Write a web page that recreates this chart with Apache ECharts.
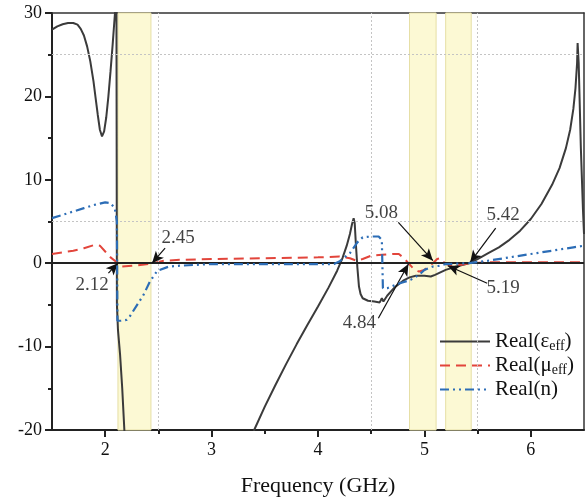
<!DOCTYPE html>
<html>
<head>
<meta charset="utf-8">
<script src="https://cdn.jsdelivr.net/npm/echarts@6/dist/echarts.min.js"></script>
<style>
  html, body { margin: 0; padding: 0; background: #fff; }
  #chart { width: 588px; height: 502px; }
</style>
</head>
<body>
<div id="chart"></div>
<script>
// 频率 (GHz) 与各曲线取值
const epsData = [
  [1.5, 28.0], [1.55, 28.4], [1.6, 28.65], [1.65, 28.8], [1.70, 28.8], [1.74, 28.6],
  [1.77, 28.1], [1.8, 27.3], [1.83, 26.0], [1.86, 24.2], [1.89, 21.8], [1.91, 19.8],
  [1.93, 17.8], [1.95, 16.0], [1.97, 15.2], [1.99, 15.8], [2.01, 17.5], [2.03, 20.0],
  [2.05, 23.0], [2.07, 26.2], [2.085, 28.8], [2.095, 30.5], [2.105, 36], [2.11, -5.0],
  [2.12, -8.0], [2.14, -11.0], [2.16, -15.0], [2.18, -20.0], [2.2, -25.0], [2.22, -32],
  [3.35, -32], [3.40, -20.0], [3.5, -17.2], [3.6, -14.6], [3.7, -12.1], [3.8, -9.7],
  [3.9, -7.4], [4.0, -5.2], [4.1, -2.9], [4.18, -0.9], [4.23, 0.6], [4.27, 2.1],
  [4.3, 3.5], [4.32, 4.7], [4.335, 5.4], [4.345, 4.8], [4.355, 2.5], [4.37, -0.5],
  [4.385, -2.8], [4.4, -3.7], [4.42, -4.2], [4.47, -4.5], [4.53, -4.6], [4.58, -4.7],
  [4.6, -4.2], [4.615, -4.6], [4.65, -3.9], [4.72, -2.9], [4.8, -2.1], [4.86, -1.7],
  [4.92, -1.5], [5.0, -1.5], [5.06, -1.6], [5.1, -1.4], [5.2, -0.8], [5.3, -0.4],
  [5.42, 0.0], [5.5, 0.5], [5.6, 1.2], [5.7, 1.9], [5.8, 2.8], [5.9, 3.9], [6.0, 5.3],
  [6.1, 7.1], [6.2, 9.4], [6.27, 11.4], [6.33, 13.8], [6.37, 16.0], [6.4, 18.5],
  [6.42, 21.0], [6.435, 24.0], [6.44, 26.4], [6.45, 24.0], [6.46, 19.0], [6.47, 14.0],
  [6.49, 6.5], [6.5, 3.5]
];
const muData = [
  [1.5, 1.1], [1.6, 1.3], [1.7, 1.5], [1.8, 1.8], [1.9, 2.2], [1.95, 2.1], [2.0, 1.4],
  [2.05, 0.7], [2.12, 0.0], [2.15, -0.4], [2.25, -0.3], [2.35, -0.2], [2.45, 0.0],
  [2.55, 0.3], [2.7, 0.4], [3.0, 0.5], [3.5, 0.6], [4.0, 0.7], [4.2, 0.8], [4.3, 0.6],
  [4.36, 0.3], [4.42, 0.5], [4.5, 0.9], [4.6, 1.0], [4.7, 1.1], [4.76, 1.1], [4.8, 0.7],
  [4.85, 0.0], [4.9, -0.7], [4.95, -1.0], [5.0, -0.8], [5.05, -0.3], [5.08, 0.0],
  [5.12, 0.5], [5.15, 0.6], [5.19, 0.0], [5.25, -0.3], [5.35, -0.2], [5.42, 0.0],
  [5.6, 0.1], [6.0, 0.1], [6.5, 0.1]
];
const nData = [
  [1.5, 5.4], [1.6, 5.8], [1.7, 6.2], [1.8, 6.6], [1.9, 7.0], [2.0, 7.3], [2.05, 7.2],
  [2.09, 6.6], [2.11, 5.0], [2.115, -6.9], [2.15, -6.9], [2.2, -6.8], [2.23, -6.4],
  [2.3, -5.0], [2.36, -3.8], [2.42, -2.2], [2.49, -0.9], [2.6, -0.4], [2.7, -0.3],
  [3.0, -0.1], [3.5, -0.1], [4.0, -0.1], [4.15, -0.1], [4.2, 0.2], [4.3, 1.2], [4.37, 2.5],
  [4.42, 3.1], [4.5, 3.2], [4.57, 3.2], [4.6, 2.8], [4.61, -3.0], [4.65, -3.0],
  [4.77, -2.4], [4.87, -2.0], [4.95, -1.4], [5.0, -0.8], [5.08, -0.4], [5.15, -0.3],
  [5.2, -0.1], [5.3, -0.05], [5.42, 0.0], [5.6, 0.3], [5.8, 0.7], [6.0, 1.1], [6.2, 1.5],
  [6.4, 1.9], [6.5, 2.1]
];
// 黄色频带
const bands = [[2.12, 2.43], [4.86, 5.11], [5.20, 5.44]];
// 标注：文字位置、箭头起点、箭头终点
const notes = [
  { text: '2.12', at: [1.876, -2.6], from: [2.03, -1.2], to: [2.12, 0.0] },
  { text: '2.45', at: [2.685, 3.0], from: [2.563, 1.8], to: [2.44, 0.0] },
  { text: '5.08', at: [4.595, 6.0], from: [4.755, 4.9], to: [5.08, 0.3] },
  { text: '5.19', at: [5.74, -3.0], from: [5.59, -2.4], to: [5.22, -0.3] },
  { text: '5.42', at: [5.74, 5.8], from: [5.67, 4.2], to: [5.43, 0.1] },
  { text: '4.84', at: [4.39, -7.2], from: [4.567, -6.6], to: [4.85, -0.1] }
];
// 刻度
const xMajor = [2, 3, 4, 5, 6];
const xMinor = [2.5, 3.5, 4.5, 5.5];
const gridX = [2.5, 4.5, 5.5];
const gridY = [25, 5];

const serif = 'Liberation Serif';
const legendNames = {
  eps: 'Real(ε{sub|eff})',
  mu: 'Real(μ{sub|eff})',
  n: 'Real(n)'
};

const chart = echarts.init(document.getElementById('chart'));

const option = {
  animation: false,
  grid: { left: 52, right: 4, top: 13, bottom: 72, containLabel: false, outerBoundsMode: 'none' },
  legend: {
    data: ['eps', 'mu', 'n'],
    orient: 'vertical',
    left: 434,
    top: 325,
    itemWidth: 50,
    itemHeight: 14,
    itemGap: 1,
    itemStyle: { opacity: 0 },
    formatter: (name) => legendNames[name],
    textStyle: {
      fontFamily: serif,
      fontSize: 21,
      color: '#111',
      lineHeight: 23,
      rich: {
        sub: { fontFamily: serif, fontSize: 14, verticalAlign: 'bottom', padding: [8, 0, 0, 0], color: '#111' }
      }
    }
  },
  xAxis: [{
    type: 'value',
    min: 1.5,
    max: 6.5,
    position: 'bottom',
    axisLine: { onZero: false, lineStyle: { color: '#222', width: 2 } },
    axisTick: { show: true, customValues: xMajor, length: 7, lineStyle: { color: '#222', width: 2 } },
    axisLabel: { customValues: xMajor, color: '#111', fontFamily: serif, fontSize: 18, margin: 11 },
    splitLine: { show: false },
    name: 'Frequency (GHz)',
    nameLocation: 'middle',
    nameGap: 45,
    nameTextStyle: { fontFamily: serif, fontSize: 22, color: '#111' }
  }, {
    type: 'value',
    min: 1.5,
    max: 6.5,
    position: 'bottom',
    axisLine: { show: false, onZero: false },
    axisTick: { show: true, customValues: xMinor, length: 4, lineStyle: { color: '#222', width: 2 } },
    axisLabel: { show: false },
    splitLine: { show: false }
  }, {
    type: 'value',
    min: 1.5,
    max: 6.5,
    position: 'top',
    axisLine: { onZero: false, lineStyle: { color: '#333', width: 1.5 } },
    axisTick: { show: false },
    axisLabel: { show: false },
    splitLine: { show: false }
  }],
  yAxis: [{
    type: 'value',
    min: -20,
    max: 30,
    interval: 10,
    position: 'left',
    axisLine: { show: true, onZero: false, lineStyle: { color: '#222', width: 2 } },
    axisTick: { show: true, length: 7, lineStyle: { color: '#222', width: 2 } },
    minorTick: { show: true, splitNumber: 2, length: 4, lineStyle: { color: '#222', width: 2 } },
    axisLabel: { color: '#111', fontFamily: serif, fontSize: 18, margin: 10 },
    splitLine: { show: false }
  }, {
    type: 'value',
    min: -20,
    max: 30,
    interval: 10,
    position: 'right',
    axisLine: { show: true, onZero: false, lineStyle: { color: '#333', width: 1.5 } },
    axisTick: { show: false },
    axisLabel: { show: false },
    splitLine: { show: false }
  }],
  series: [{
    name: 'bg',
    type: 'line',
    data: [],
    z: 1,
    silent: true,
    markArea: {
      silent: true,
      itemStyle: { color: '#fcf9d4', borderColor: '#e6dfa6', borderWidth: 1 },
      data: bands.map(b => [{ xAxis: b[0] }, { xAxis: b[1] }])
    },
    markLine: {
      silent: true,
      symbol: 'none',
      label: { show: false },
      lineStyle: { color: '#c4c4c4', type: [2, 2], width: 1 },
      data: gridX.map(v => ({ xAxis: v })).concat(gridY.map(v => ({ yAxis: v })))
    }
  }, {
    name: 'zero',
    type: 'line',
    data: [],
    z: 2,
    silent: true,
    markLine: {
      silent: true,
      symbol: 'none',
      label: { show: false },
      lineStyle: { color: '#222', type: 'solid', width: 1.8 },
      data: [{ yAxis: 0 }]
    }
  }, {
    name: 'eps',
    type: 'line',
    data: epsData,
    z: 3,
    symbol: 'none',
    color: '#3b3b3b',
    lineStyle: { color: '#3b3b3b', width: 2 }
  }, {
    name: 'mu',
    type: 'line',
    data: muData,
    z: 4,
    symbol: 'none',
    color: '#e2453b',
    lineStyle: { color: '#e2453b', width: 2, type: [10, 6] }
  }, {
    name: 'n',
    type: 'line',
    data: nData,
    z: 5,
    symbol: 'none',
    color: '#2c6db6',
    lineStyle: { color: '#2c6db6', width: 2.2, type: [9, 4, 2, 4, 2, 4] }
  }, {
    name: 'arrows',
    type: 'line',
    data: [],
    z: 6,
    silent: true,
    markLine: {
      silent: true,
      symbol: ['none', 'arrow'],
      symbolSize: [8, 12],
      label: { show: false },
      lineStyle: { color: '#111', type: 'solid', width: 1.2 },
      data: notes.map(n => [{ coord: n.from }, { coord: n.to }])
    }
  }, {
    name: 'labels',
    type: 'scatter',
    data: notes.map(n => ({ value: n.at, name: n.text })),
    z: 7,
    silent: true,
    symbolSize: 0,
    label: {
      show: true,
      position: 'inside',
      formatter: p => p.name,
      fontFamily: serif,
      fontSize: 19,
      color: '#111'
    }
  }]
};

chart.setOption(option);
</script>
</body>
</html>
